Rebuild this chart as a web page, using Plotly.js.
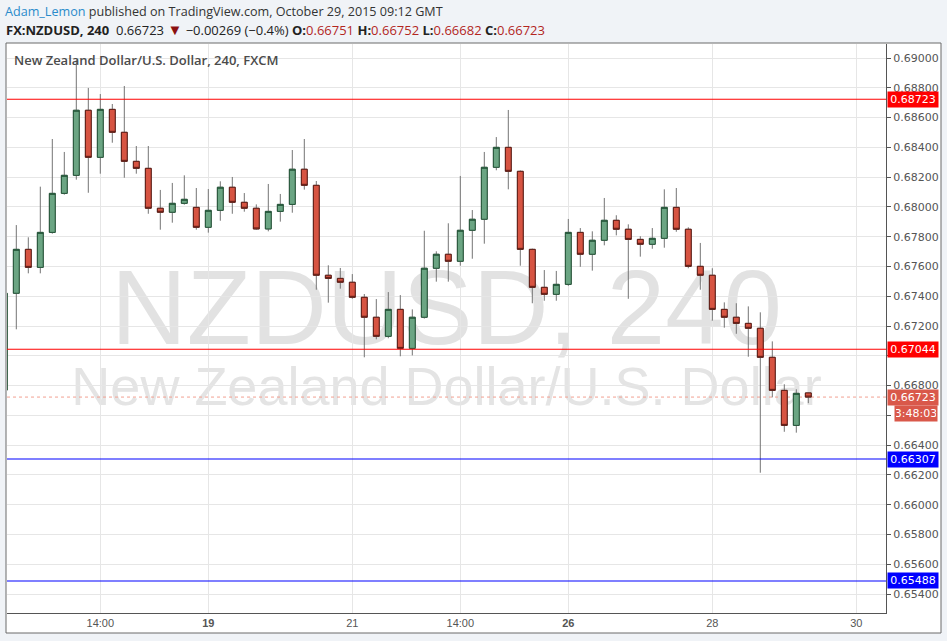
<!DOCTYPE html>
<html>
<head>
<meta charset="utf-8">
<script src="https://cdn.plot.ly/plotly-3.0.1.min.js"></script>
<style>
  html, body { margin: 0; padding: 0; background: #f0f3f7; }
  #chart { width: 947px; height: 641px; }
</style>
</head>
<body>
<div id="chart"></div>
<script>
// ---- Data (4h candles, FX:NZDUSD) ----
const openP = [0.66770,0.67420,0.67715,0.67594,0.67829,0.68091,0.68212,0.68649,0.68333,0.68655,
  0.68501,0.68306,0.68259,0.67991,0.67964,0.68024,0.67997,0.67863,0.67977,0.68132,
  0.68031,0.67991,0.67852,0.67970,0.68017,0.68253,0.68145,0.67541,0.67520,0.67494,
  0.67393,0.67259,0.67131,0.67312,0.67050,0.67259,0.67588,0.67682,0.67635,0.67843,
  0.67917,0.68266,0.68400,0.68239,0.67715,0.67460,0.67413,0.67480,0.67829,0.67682,
  0.67776,0.67910,0.67850,0.67782,0.67749,0.67789,0.67997,0.67850,0.67601,0.67541,
  0.67312,0.67259,0.67218,0.67185,0.66990,0.66768,0.66533,0.66751];
const highP = [0.67440,0.67878,0.67796,0.68136,0.68456,0.68369,0.68987,0.68799,0.68758,0.68691,
  0.68812,0.68409,0.68409,0.68114,0.68161,0.68212,0.68127,0.68120,0.68172,0.68201,
  0.68093,0.68017,0.68154,0.68087,0.68382,0.68456,0.68174,0.67608,0.67590,0.67549,
  0.67415,0.67381,0.67428,0.67408,0.67312,0.67840,0.67702,0.67890,0.68208,0.67979,
  0.68369,0.68469,0.68651,0.68245,0.67720,0.67576,0.67570,0.67919,0.67858,0.67836,
  0.68060,0.67944,0.67883,0.67803,0.67858,0.68118,0.68127,0.67863,0.67758,0.67588,
  0.67359,0.67353,0.67332,0.67292,0.67097,0.66809,0.66775,0.66752];
const lowP = [0.66740,0.67178,0.67554,0.67554,0.67820,0.68082,0.68183,0.68095,0.68223,0.68431,
  0.68196,0.68223,0.67954,0.67847,0.67894,0.68015,0.67847,0.67827,0.67907,0.67954,
  0.67968,0.67847,0.67836,0.67901,0.67961,0.68116,0.67444,0.67357,0.67451,0.67383,
  0.66990,0.67111,0.67118,0.66997,0.67003,0.67250,0.67498,0.67498,0.67605,0.67652,
  0.67753,0.68246,0.68118,0.67605,0.67353,0.67370,0.67370,0.67470,0.67598,0.67572,
  0.67742,0.67809,0.67383,0.67666,0.67719,0.67726,0.67833,0.67588,0.67444,0.67236,
  0.67189,0.67148,0.66994,0.66215,0.66721,0.66490,0.66484,0.66682];
const closeP = [0.67420,0.67715,0.67594,0.67829,0.68091,0.68212,0.68649,0.68333,0.68655,0.68501,
  0.68306,0.68259,0.67991,0.67964,0.68024,0.68051,0.67863,0.67977,0.68132,0.68031,
  0.67991,0.67852,0.67970,0.68017,0.68253,0.68145,0.67541,0.67520,0.67494,0.67393,
  0.67259,0.67131,0.67312,0.67050,0.67259,0.67588,0.67682,0.67635,0.67843,0.67917,
  0.68266,0.68400,0.68239,0.67715,0.67460,0.67413,0.67480,0.67829,0.67682,0.67776,
  0.67910,0.67850,0.67782,0.67749,0.67789,0.67997,0.67850,0.67601,0.67541,0.67312,
  0.67259,0.67218,0.67185,0.66990,0.66768,0.66533,0.66748,0.66723];

const xTickIdx  = [8, 17, 29, 38, 47, 59, 71];
const xTickText = ['14:00', '<b>19</b>', '21', '14:00', '<b>26</b>', '28', '30'];

const yTickVals = [0.654,0.656,0.658,0.660,0.662,0.664,0.666,0.668,0.670,0.672,0.674,
  0.676,0.678,0.680,0.682,0.684,0.686,0.688,0.690];
// labels hidden behind the price boxes on the right scale
const yTickHidden = [0.666, 0.670];

const levelValues = [0.68723, 0.67044, 0.66307, 0.65488];
const levelColors = ['#ff0000', '#ff0000', '#0000ff', '#0000ff'];

const changeText = '\u22120.00269 (\u22120.4%)';
const countdownText = '3:48:03';

// ---- Helpers ----
const idx = openP.map((_, i) => i);
const bodyHigh = openP.map((o, i) => Math.max(o, closeP[i]));
const bodyLow  = openP.map((o, i) => Math.min(o, closeP[i]));
const n = closeP.length;
const lastC = closeP[n - 1];
const fmt = v => v.toFixed(5);
const yTickText = yTickVals.map(v => yTickHidden.some(h => Math.abs(h - v) < 1e-9) ? '' : fmt(v));

// plot area pixels: left 7, right 886, top 44, bottom 613
const PL = 7, PR = 886, PT = 44, PB = 613;
const px = x => (x - PL) / (PR - PL);
const py = y => (PB - y) / (PB - PT);

const wickTrace = {
  type: 'candlestick', x: idx, open: openP, high: highP, low: lowP, close: closeP,
  increasing: { line: { color: '#737373', width: 1 }, fillcolor: 'rgba(0,0,0,0)' },
  decreasing: { line: { color: '#737373', width: 1 }, fillcolor: 'rgba(0,0,0,0)' },
  hoverinfo: 'skip', showlegend: false
};
const bodyTrace = {
  type: 'candlestick', x: idx, open: openP, high: bodyHigh, low: bodyLow, close: closeP,
  increasing: { line: { color: '#225437', width: 1 }, fillcolor: '#6ba583' },
  decreasing: { line: { color: '#5b1a13', width: 1 }, fillcolor: '#d75442' },
  hoverinfo: 'skip', showlegend: false
};

const shapes = [
  // chart frame
  { type: 'rect', xref: 'paper', yref: 'paper', layer: 'below',
    x0: px(6), x1: px(941), y0: py(633), y1: py(43),
    fillcolor: '#ffffff', line: { color: '#6b6b6b', width: 1 } },
  // watermark
  { type: 'rect', xref: 'paper', yref: 'paper', layer: 'below',
    x0: 0, x1: 1, y0: py(350), y1: py(245), fillcolor: 'rgba(0,0,0,0)', line: { width: 0 },
    label: { text: 'NZDUSD, 240', textposition: 'middle center',
      font: { family: 'Liberation Sans, Arial, sans-serif', size: 105, color: '#e2e2e2' } } },
  { type: 'rect', xref: 'paper', yref: 'paper', layer: 'below',
    x0: 0, x1: 1, y0: py(410), y1: py(352), fillcolor: 'rgba(0,0,0,0)', line: { width: 0 },
    label: { text: 'New Zealand Dollar/U.S. Dollar', textposition: 'middle center',
      font: { family: 'Liberation Sans, Arial, sans-serif', size: 54, color: '#e4e4e4' } } },
  // last price dotted line
  { type: 'line', xref: 'paper', yref: 'y', layer: 'below', x0: 0, x1: 1, y0: lastC, y1: lastC,
    line: { color: '#f2a091', width: 1, dash: 'dot' } }
];
levelValues.forEach((v, i) => shapes.push({
  type: 'line', xref: 'paper', yref: 'y', layer: 'above', x0: 0, x1: 1, y0: v, y1: v,
  line: { color: levelColors[i], width: 1.2 }
}));

const axisFont = { family: 'DejaVu Sans, sans-serif', size: 11, color: '#555555' };
const annotations = [];
levelValues.forEach((v, i) => annotations.push({
  xref: 'paper', yref: 'y', x: px(887), y: v, xanchor: 'left', yanchor: 'middle',
  text: fmt(v), showarrow: false, bgcolor: levelColors[i], borderpad: 1, width: 48, align: 'center',
  font: { family: 'DejaVu Sans, sans-serif', size: 11, color: '#ffffff' }
}));
annotations.push({
  xref: 'paper', yref: 'y', x: px(887), y: lastC, xanchor: 'left', yanchor: 'middle',
  text: fmt(lastC), showarrow: false, bgcolor: '#d9584a', borderpad: 1, width: 48, align: 'center',
  font: { family: 'DejaVu Sans, sans-serif', size: 11, color: '#ffffff' }
});
annotations.push({
  xref: 'paper', yref: 'y', x: px(938), y: lastC, yshift: -16, xanchor: 'right', yanchor: 'middle',
  text: countdownText, showarrow: false, bgcolor: '#d9584a', borderpad: 1, width: 40, align: 'center',
  font: { family: 'DejaVu Sans, sans-serif', size: 11, color: '#ffffff' }
});
// in-chart title
annotations.push({
  xref: 'paper', yref: 'paper', x: px(12), y: py(60), xanchor: 'left', yanchor: 'middle',
  text: 'New Zealand Dollar/U.S. Dollar, 240, FXCM', showarrow: false,
  font: { family: 'Open Sans, sans-serif', size: 13, color: '#4b4b4b', weight: 600 }
});
// header
annotations.push({
  xref: 'paper', yref: 'paper', x: px(3), y: py(12), xanchor: 'left', yanchor: 'middle',
  text: '<span style="color:#2a8bcb">Adam_Lemon</span> published on TradingView.com, October 29, 2015 09:12 GMT',
  showarrow: false, font: { family: 'Open Sans, sans-serif', size: 12.6, color: '#333333' }
});
const red = s => '<span style="color:#b3261e">' + s + '</span>';
annotations.push({
  xref: 'paper', yref: 'paper', x: px(4), y: py(29), xanchor: 'left', yanchor: 'middle',
  text: '<b>FX:NZDUSD, 240</b>  ' + fmt(lastC) + ' <span style="color:#8b1010;font-size:15px">\u25BC</span> ' + changeText +
        ' <b>O:</b>' + red(fmt(openP[n-1])) + ' <b>H:</b>' + red(fmt(highP[n-1])) +
        ' <b>L:</b>' + red(fmt(lowP[n-1])) + ' <b>C:</b>' + red(fmt(closeP[n-1])),
  showarrow: false, font: { family: 'Open Sans, sans-serif', size: 13, color: '#222222' }
});

const layout = {
  width: 947, height: 641,
  margin: { l: PL, r: 947 - PR, t: PT, b: 641 - PB, pad: 0 },
  paper_bgcolor: '#f0f3f7', plot_bgcolor: 'rgba(0,0,0,0)',
  showlegend: false, hovermode: false, dragmode: false,
  xaxis: {
    type: 'linear', range: [0.225, 73.475], rangeslider: { visible: false },
    tickmode: 'array', tickvals: xTickIdx, ticktext: xTickText,
    showgrid: true, gridcolor: '#e6e6e6', gridwidth: 1, zeroline: false,
    showline: true, linecolor: '#555555', linewidth: 1,
    ticks: '', tickfont: { family: 'Liberation Sans, Arial, sans-serif', size: 11, color: '#555555' }
  },
  yaxis: {
    side: 'right', range: [0.65273, 0.69094],
    tickmode: 'array', tickvals: yTickVals, ticktext: yTickText,
    showgrid: true, gridcolor: '#e6e6e6', gridwidth: 1, zeroline: false,
    showline: true, linecolor: '#555555', linewidth: 1,
    ticks: 'outside', ticklen: 4, tickcolor: '#555555', tickfont: axisFont
  },
  shapes: shapes,
  annotations: annotations
};

Plotly.newPlot('chart', [wickTrace, bodyTrace], layout, { displayModeBar: false, staticPlot: true });
</script>
</body>
</html>
